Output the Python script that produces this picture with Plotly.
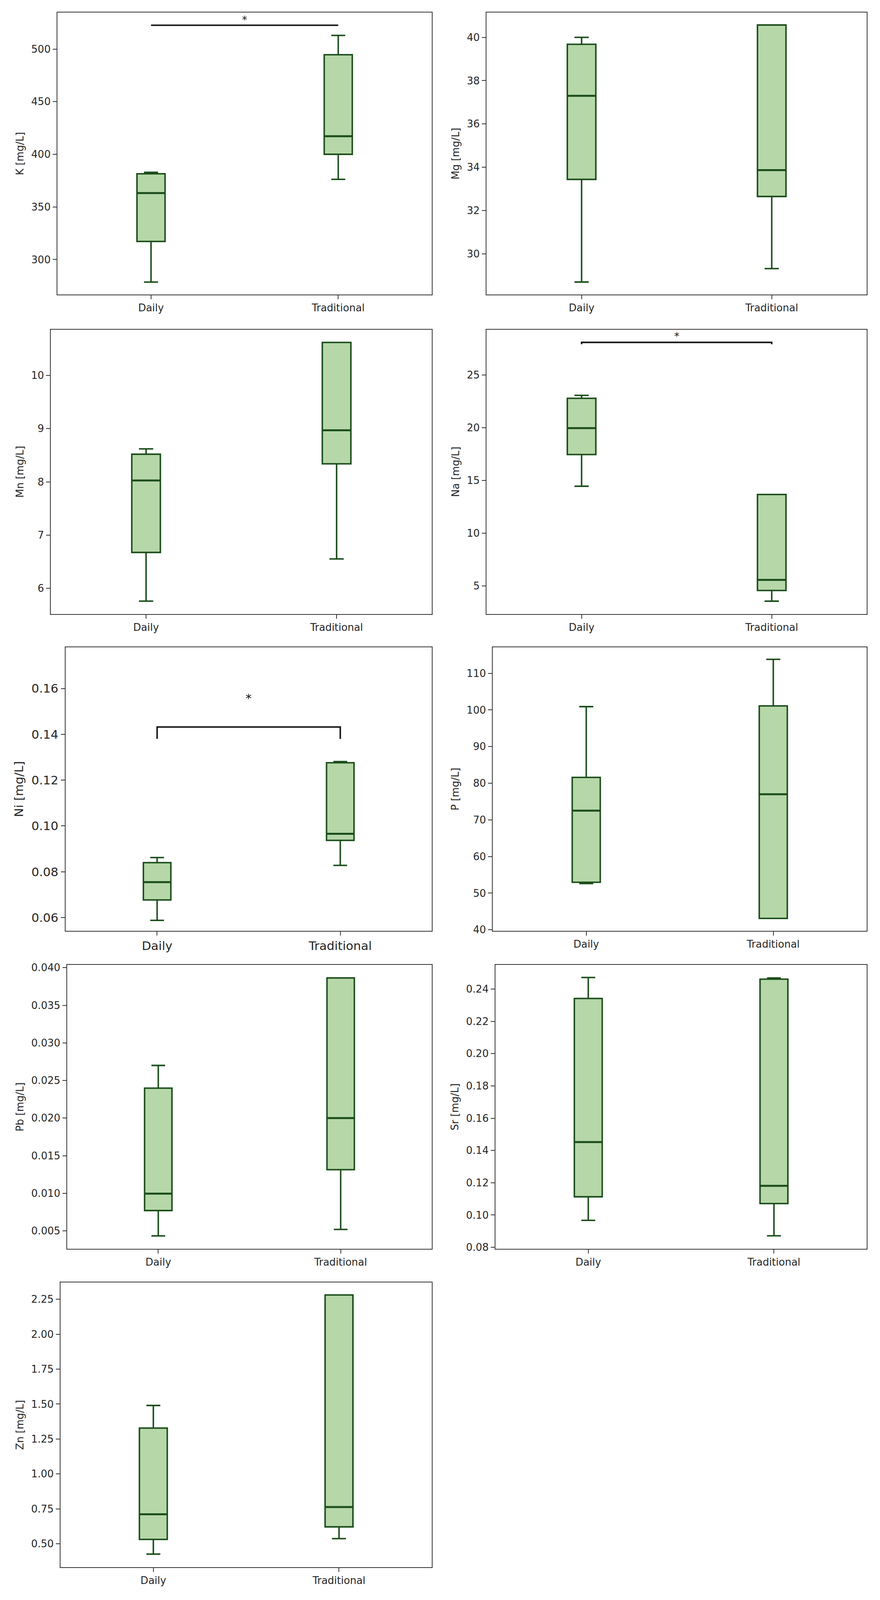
import plotly.graph_objects as go

# ---------------- data ----------------
elements = ["K", "Mg", "Mn", "Na", "Ni", "P", "Pb", "Sr", "Zn"]
groups = ["Daily", "Traditional"]
group_pos = [0, 1]

daily_low  = [278.6, 28.70, 5.76, 14.45, 0.0588, 52.63, 0.00433, 0.0967, 0.426]
daily_q1   = [317.2, 33.44, 6.675, 17.45, 0.0677, 52.96, 0.0077, 0.1113, 0.531]
daily_med  = [363.2, 37.30, 8.026, 19.96, 0.0755, 72.53, 0.00995, 0.1452, 0.7115]
daily_q3   = [381.5, 39.68, 8.52, 22.78, 0.0840, 81.6, 0.02398, 0.2342, 1.328]
daily_high = [382.9, 40.00, 8.62, 23.06, 0.0862, 100.9, 0.0270, 0.2472, 1.49]

trad_low  = [376.2, 29.32, 6.553, 3.56, 0.0828, 43.1, 0.00519, 0.0871, 0.537]
trad_q1   = [400.0, 32.65, 8.34, 4.57, 0.0937, 43.1, 0.01314, 0.1071, 0.621]
trad_med  = [417.2, 33.87, 8.97, 5.58, 0.0966, 77.0, 0.0200, 0.1181, 0.763]
trad_q3   = [494.6, 40.57, 10.62, 13.67, 0.1276, 101.1, 0.03864, 0.2462, 2.281]
trad_high = [513.0, 40.57, 10.62, 13.67, 0.1281, 113.8, 0.03864, 0.2469, 2.281]

# significance brackets
sig_elements = ["K", "Na", "Ni"]
sig_bar  = [522.6, 28.08, 0.1432]
sig_tip  = [522.6, 27.90, 0.1380]
sig_star = [530.0, 28.86, 0.1568]
sig_text = ["*", "*", "*"]

# axis settings
y_ranges = [[266.7, 534.6], [28.12, 41.14], [5.52, 10.86], [2.35, 29.29],
            [0.0542, 0.178], [39.7, 117.1], [0.0026, 0.04037], [0.079, 0.255],
            [0.332, 2.37]]
y_tick0 = [300, 30, 6, 5, 0.06, 40, 0.005, 0.08, 0.5]
y_dtick = [50, 2, 1, 5, 0.02, 10, 0.005, 0.02, 0.25]
y_fmt = ["d", "d", "d", "d", ".2f", "d", ".3f", ".2f", ".2f"]

# ---------------- layout geometry (reference px) ----------------
W, H = 2254, 4677
px_x = [(140, 1106), (1247, 2228), (123, 1106), (1247, 2228), (161, 1106),
        (1263, 2228), (165, 1106), (1270, 2228), (148, 1106)]
px_y = [(28, 857), (28, 857), (960, 1796), (960, 1796), (1894, 2728),
        (1894, 2728), (2828, 3663), (2828, 3663), (3762, 4599)]
font_sizes = [26, 26, 26, 26, 31, 26, 26, 26, 26]

FILL = "#b6d7a8"
EDGE = "#1b4d1b"
TXT = "#262626"
FRAME = "#333333"
FONT = "DejaVu Sans"
BOX_W = 0.15

fig = go.Figure()
layout = dict(
    template="none", autosize=True,
    paper_bgcolor="white", plot_bgcolor="white",
    margin=dict(l=0, r=0, t=0, b=0, pad=0),
    showlegend=False, font=dict(family=FONT, color=TXT),
    boxmode="overlay",
)
annotations = []

for i, el in enumerate(elements):
    n = i + 1
    xa = "x" if n == 1 else f"x{n}"
    ya = "y" if n == 1 else f"y{n}"
    fs = font_sizes[i]
    meds = [daily_med[i], trad_med[i]]

    fig.add_trace(go.Box(
        x=group_pos,
        q1=[daily_q1[i], trad_q1[i]],
        median=meds,
        q3=[daily_q3[i], trad_q3[i]],
        lowerfence=[daily_low[i], trad_low[i]],
        upperfence=[daily_high[i], trad_high[i]],
        width=BOX_W, whiskerwidth=0.5,
        fillcolor=FILL, line=dict(color=EDGE, width=3.8),
        boxpoints=False, hoverinfo="skip",
        xaxis=xa, yaxis=ya, showlegend=False,
    ))
    # slightly heavier median lines, as in the reference
    for p, m in zip(group_pos, meds):
        fig.add_trace(go.Scatter(
            x=[p - BOX_W / 2, p + BOX_W / 2], y=[m, m], mode="lines",
            line=dict(color=EDGE, width=5),
            xaxis=xa, yaxis=ya, showlegend=False, hoverinfo="skip",
        ))

    if el in sig_elements:
        k = sig_elements.index(el)
        fig.add_trace(go.Scatter(
            x=[group_pos[0], group_pos[0], group_pos[1], group_pos[1]],
            y=[sig_tip[k], sig_bar[k], sig_bar[k], sig_tip[k]],
            mode="lines", line=dict(color="#111111", width=3.8),
            xaxis=xa, yaxis=ya, showlegend=False, hoverinfo="skip",
        ))
        annotations.append(dict(
            x=(group_pos[0] + group_pos[1]) / 2, y=sig_star[k],
            xref=xa, yref=ya, text=sig_text[k], showarrow=False,
            font=dict(family=FONT, size=fs, color="#111111"),
            xanchor="center", yanchor="middle", yshift=-6,
        ))

    x0, x1 = px_x[i]
    t, b = px_y[i]
    axis_common = dict(
        showline=True, mirror=True, linecolor=FRAME, linewidth=2.2,
        ticks="outside", ticklen=10, tickwidth=2, tickcolor=FRAME,
        showgrid=False, zeroline=False, automargin=False,
        tickfont=dict(family=FONT, size=fs, color=TXT),
    )
    layout["xaxis" if n == 1 else f"xaxis{n}"] = dict(
        axis_common,
        domain=[x0 / W, x1 / W], anchor=ya,
        range=[-0.5, 1.5], tickmode="array",
        tickvals=group_pos, ticktext=groups,
    )
    layout["yaxis" if n == 1 else f"yaxis{n}"] = dict(
        axis_common,
        domain=[1 - b / H, 1 - t / H], anchor=xa,
        range=y_ranges[i], tickmode="linear",
        tick0=y_tick0[i], dtick=y_dtick[i], tickformat=y_fmt[i],
        title=dict(text=f"{el} [mg/L]", standoff=12,
                   font=dict(family=FONT, size=fs, color=TXT)),
    )

layout["annotations"] = annotations
fig.update_layout(**layout)
# size the figure to the browser window so the whole grid is always in view
fig.write_html("out.html",
               default_width="calc(100vw - 16px)",
               default_height="calc(100vh - 24px)")
